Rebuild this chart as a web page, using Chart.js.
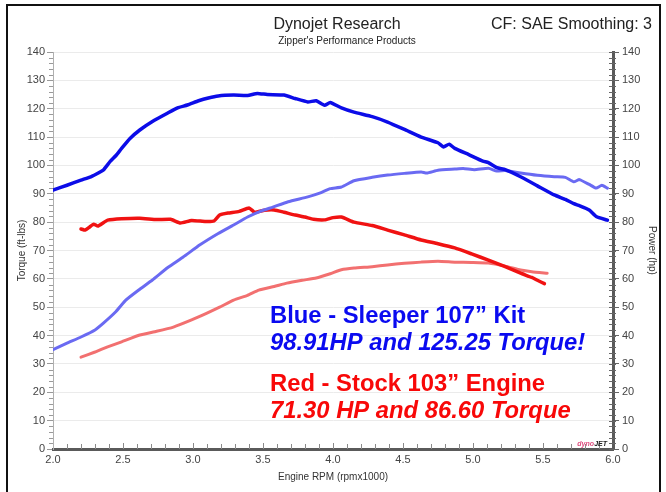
<!DOCTYPE html>
<html>
<head>
<meta charset="utf-8">
<script src="https://cdn.jsdelivr.net/npm/chart.js@4.4.1/dist/chart.umd.min.js"></script>
<style>
  html, body { margin: 0; padding: 0; background: #fff; }
  #wrap { position: relative; width: 666px; height: 492px; }
</style>
</head>
<body>
<div id="wrap"><canvas id="dynoChart" width="666" height="492"></canvas></div>
<script>
// Run data (rpm x1000 / value)
const blueTqRpm = [2.00,2.10,2.20,2.27,2.33,2.36,2.41,2.45,2.49,2.55,2.62,2.71,2.82,2.89,2.96,3.04,3.11,3.18,3.29,3.39,3.46,3.53,3.65,3.73,3.82,3.88,3.94,3.98,4.06,4.15,4.28,4.39,4.51,4.63,4.75,4.79,4.83,4.87,4.97,5.07,5.11,5.17,5.23,5.34,5.46,5.58,5.66,5.72,5.76,5.83,5.88,5.96];
const blueTq    = [91.3,93,94.8,96,97.5,98.4,101.5,103.5,106,109.5,112.5,115.5,118.5,120.3,121.3,122.8,123.8,124.5,124.8,124.7,125.4,125,124.8,123.6,122.4,122.8,121.2,122.2,120.3,118.8,117.2,115.3,112.7,110,108,106.5,107.5,106,103.8,101.5,101,99.2,98.5,96,92.8,89.6,88,86.5,85.8,84.3,82,80.7];

const blueHpRpm = [2.00,2.10,2.20,2.30,2.36,2.45,2.52,2.61,2.71,2.82,2.93,3.05,3.18,3.29,3.39,3.48,3.57,3.68,3.82,3.91,3.98,4.06,4.15,4.28,4.39,4.51,4.63,4.67,4.75,4.87,4.93,5.01,5.11,5.17,5.23,5.34,5.46,5.58,5.66,5.72,5.76,5.83,5.88,5.92,5.96];
const blueHp    = [35,37.3,39.5,42,44.4,48.5,52.5,56,59.6,64,67.7,72,76,79,81.8,83.8,85.3,87.2,88.9,90.3,91.8,92.4,94.6,95.8,96.6,97.2,97.7,97.3,98.3,98.7,98.9,98.5,99,98,98.2,97.3,96.5,96,95.8,94.2,95,93.3,92,93,92];

const redTqRpm = [2.20,2.23,2.26,2.29,2.32,2.36,2.39,2.49,2.62,2.74,2.84,2.91,2.99,3.09,3.15,3.19,3.25,3.33,3.40,3.44,3.51,3.58,3.65,3.73,3.80,3.86,3.94,4.00,4.06,4.15,4.28,4.39,4.51,4.63,4.75,4.87,4.99,5.11,5.23,5.34,5.42,5.46,5.51];
const redTq    = [77.6,77.2,78.2,79.3,78.6,79.8,80.7,81.2,81.4,80.9,81,79.7,80.6,80.2,80.4,82.5,83.2,83.8,85,83.5,84.2,84.3,83.5,82.5,81.8,81,80.8,81.6,81.8,80,78.8,77.2,75.5,73.7,72.4,70.9,68.8,66.6,64.3,62,60.5,59.5,58.3];

const redHpRpm = [2.20,2.30,2.39,2.49,2.62,2.74,2.86,2.99,3.10,3.19,3.29,3.39,3.47,3.58,3.67,3.78,3.88,3.98,4.06,4.15,4.28,4.39,4.51,4.63,4.75,4.87,4.99,5.11,5.23,5.34,5.42,5.53];
const redHp    = [32.4,34.2,36,37.8,40.2,41.5,43,45.5,47.9,50,52.5,54.2,56,57.3,58.5,59.5,60.3,61.8,63.2,63.8,64.3,64.9,65.5,65.9,66.2,65.9,65.8,65.6,64.5,63.1,62.5,62];

// header and annotation text
const titleText = 'Dynojet Research';
const subTitleText = "Zipper's Performance Products";
const cfText = 'CF: SAE Smoothing: 3';
const noteLines = [
    { text: 'Blue - Sleeper 107\u201D Kit', color: '#0a0af0', font: 'bold 23.8px "Liberation Sans", Arial, sans-serif', y: 323 },
    { text: '98.91HP and 125.25 Torque!', color: '#0a0af0', font: 'italic bold 23.8px "Liberation Sans", Arial, sans-serif', y: 350 },
    { text: 'Red - Stock 103\u201D Engine', color: '#f80808', font: 'bold 23.8px "Liberation Sans", Arial, sans-serif', y: 391 },
    { text: '71.30 HP and 86.60 Torque', color: '#f80808', font: 'italic bold 23.8px "Liberation Sans", Arial, sans-serif', y: 418 }
];

const FONT = '"Liberation Sans", Arial, sans-serif';

function toPoints(xs, ys) {
    return xs.map((x, i) => ({ x: x, y: ys[i] }));
}

// frame, header, notes and minor ticks
const sheetPlugin = {
    id: 'sheet',
    beforeDraw(chart) {
        const c = chart.ctx;
        c.save();
        c.fillStyle = '#fff';
        c.fillRect(0, 0, chart.width, chart.height);
        c.restore();
    },
    afterDraw(chart) {
        const c = chart.ctx;
        const area = chart.chartArea;
        const yS = chart.scales.y;
        const xS = chart.scales.x;
        c.save();

        // minor ticks left axis
        c.strokeStyle = '#9a9a9a';
        c.lineWidth = 1;
        c.beginPath();
        for (let v = 0; v <= 140; v += 2) {
            if (v % 10 === 0) continue;
            const py = Math.round(yS.getPixelForValue(v)) + 0.5;
            c.moveTo(area.left - 4, py);
            c.lineTo(area.left, py);
        }
        c.stroke();

        // minor ticks right axis
        c.strokeStyle = '#666';
        c.beginPath();
        for (let v = 0; v <= 140; v += 2) {
            const py = Math.round(yS.getPixelForValue(v)) + 0.5;
            c.moveTo(area.right - 4, py);
            c.lineTo(area.right + 3, py);
        }
        c.stroke();

        // minor ticks bottom axis (pointing up)
        c.strokeStyle = '#8a8a8a';
        c.beginPath();
        for (let i = 1; i < 40; i++) {
            const px = Math.round(xS.getPixelForValue(2 + i / 10)) + 0.5;
            const len = (i % 5 === 0) ? 6 : 5;
            c.moveTo(px, area.bottom);
            c.lineTo(px, area.bottom - len);
        }
        c.stroke();

        // header
        c.fillStyle = '#222';
        c.textBaseline = 'alphabetic';
        c.textAlign = 'center';
        c.font = '16px ' + FONT;
        c.fillText(titleText, 337, 29);
        c.font = '10px ' + FONT;
        c.fillText(subTitleText, 347, 44);
        c.textAlign = 'right';
        c.font = '16px ' + FONT;
        c.fillText(cfText, 652, 29);

        // little logo in the corner
        c.textAlign = 'right';
        c.font = 'italic bold 7px ' + FONT;
        c.fillStyle = '#e05080';
        c.fillText('dyno', 594, 446);
        c.fillStyle = '#222';
        c.fillText('JET', 607, 446);

        // notes
        c.textAlign = 'left';
        noteLines.forEach(n => {
            c.font = n.font;
            c.fillStyle = n.color;
            c.fillText(n.text, 270, n.y);
        });

        // page frame
        c.strokeStyle = '#111';
        c.lineWidth = 2;
        c.strokeRect(7, 5, 653, 520);
        c.restore();
    }
};

const ctx = document.getElementById('dynoChart').getContext('2d');

new Chart(ctx, {
    type: 'line',
    data: {
        datasets: [{
            label: 'Blue Torque',
            data: toPoints(blueTqRpm, blueTq),
            borderColor: '#0c0ce8',
            borderWidth: 3.5,
            yAxisID: 'y'
        }, {
            label: 'Blue HP',
            data: toPoints(blueHpRpm, blueHp),
            borderColor: '#6a6af2',
            borderWidth: 3,
            yAxisID: 'y1'
        }, {
            label: 'Red Torque',
            data: toPoints(redTqRpm, redTq),
            borderColor: '#f01212',
            borderWidth: 3.5,
            yAxisID: 'y'
        }, {
            label: 'Red HP',
            data: toPoints(redHpRpm, redHp),
            borderColor: '#f27070',
            borderWidth: 3,
            yAxisID: 'y1'
        }]
    },
    options: {
        responsive: false,
        animation: false,
        devicePixelRatio: 1,
        elements: {
            point: { radius: 0 },
            line: { tension: 0.15, borderCapStyle: 'round', borderJoinStyle: 'round' }
        },
        layout: { padding: { top: 52, left: 0, right: 0, bottom: 0 } },
        plugins: {
            legend: { display: false },
            tooltip: { enabled: false }
        },
        scales: {
            x: {
                type: 'linear',
                min: 2,
                max: 6,
                afterFit(scale) { scale.height = 43; },
                ticks: {
                    stepSize: 0.5,
                    padding: 4,
                    color: '#444',
                    font: { family: FONT, size: 11 },
                    callback: v => v.toFixed(1)
                },
                grid: { drawOnChartArea: false, drawTicks: false },
                border: { color: '#5a5a5a', width: 3 },
                title: {
                    display: true,
                    text: 'Engine RPM (rpmx1000)',
                    color: '#333',
                    font: { family: FONT, size: 10 },
                    padding: { top: 0, bottom: 9 }
                }
            },
            y: {
                position: 'left',
                min: 0,
                max: 140,
                afterFit(scale) { scale.width = 53; },
                ticks: {
                    stepSize: 10,
                    padding: 2,
                    color: '#444',
                    font: { family: FONT, size: 11 }
                },
                grid: { color: '#ebebeb', tickColor: '#999', tickLength: 6 },
                border: { color: '#b0b0b0', width: 1 },
                title: {
                    display: true,
                    text: 'Torque (ft-lbs)',
                    color: '#333',
                    font: { family: FONT, size: 10 },
                    padding: { top: 16, bottom: 0 }
                }
            },
            y1: {
                position: 'right',
                min: 0,
                max: 140,
                afterFit(scale) { scale.width = 53; },
                ticks: {
                    stepSize: 10,
                    padding: 3,
                    color: '#444',
                    font: { family: FONT, size: 11 }
                },
                grid: { drawOnChartArea: false, tickColor: '#666', tickLength: 6 },
                border: { color: '#5a5a5a', width: 3 },
                title: {
                    display: true,
                    text: 'Power (hp)',
                    color: '#333',
                    font: { family: FONT, size: 10 },
                    padding: { top: 8, bottom: 0 }
                }
            }
        }
    },
    plugins: [sheetPlugin]
});
</script>
</body>
</html>
